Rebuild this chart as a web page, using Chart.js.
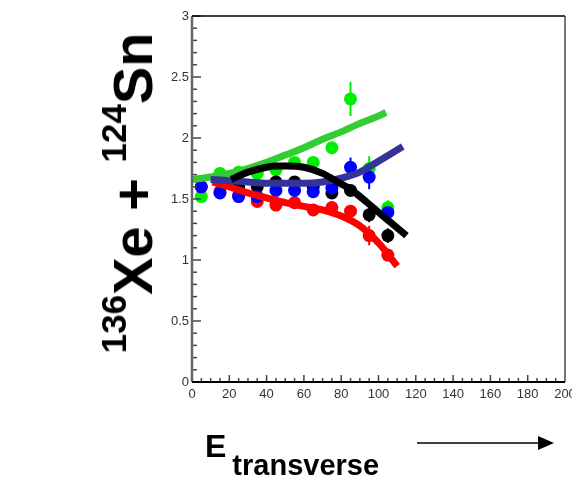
<!DOCTYPE html>
<html>
<head>
<meta charset="utf-8">
<script src="https://cdn.jsdelivr.net/npm/chart.js@4/dist/chart.umd.min.js"></script>
<style>
  body { margin: 0; background: #fff; }
  #wrap { position: relative; width: 572px; height: 478px; overflow: hidden; }
  #plot { position: absolute; left: 0; top: 0; filter: blur(0.6px); }
  .ttl { position: absolute; white-space: nowrap; font-family: "Liberation Sans", Arial, sans-serif; font-weight: bold; color: #000; line-height: 1; }
  #ytitle { left: 133px; top: 193px; font-size: 56px; transform: translate(-50%, -50%) rotate(-90deg); }
  #ytitle .sup { font-size: 35px; position: relative; top: -26px; }
  #xtitle { left: 205px; top: 430px; font-size: 32px; }
  #xtitle .sub { font-size: 29px; position: relative; top: 18px; margin-left: 6px; }
  #arrow { position: absolute; left: 0; top: 0; }
</style>
</head>
<body>
<div id="wrap">
  <canvas id="plot" width="572" height="478"></canvas>
  <div class="ttl" id="ytitle"><span class="sup">136</span>Xe + <span class="sup">124</span>Sn</div>
  <div class="ttl" id="xtitle">E<span class="sub">transverse</span></div>
  <svg id="arrow" width="572" height="478">
    <line x1="417" y1="443" x2="540" y2="443" stroke="#000" stroke-width="1.6"/>
    <polygon points="538,436 554,443 538,450" fill="#000"/>
  </svg>
</div>
<script>
// bin centres of the measured points
var binX = [5, 15, 25, 35, 45, 55, 65, 75, 85, 95, 105];

var greenPts = [1.52, 1.71, 1.72, 1.71, 1.74, 1.80, 1.80, 1.92, 2.32, 1.75, 1.43];
var greenErr = [0.03, 0.03, 0.03, 0.03, 0.03, 0.03, 0.03, 0.04, 0.14, 0.10, 0.06];
var bluePts  = [1.60, 1.55, 1.52, 1.52, 1.57, 1.57, 1.56, 1.59, 1.76, 1.68, 1.39];
var blueErr  = [0.03, 0.03, 0.03, 0.03, 0.03, 0.03, 0.03, 0.03, 0.08, 0.10, 0.07];
var redPts   = [1.60, 1.56, 1.53, 1.48, 1.45, 1.47, 1.41, 1.43, 1.40, 1.20, 1.04];
var redErr   = [0.03, 0.03, 0.03, 0.03, 0.03, 0.03, 0.03, 0.03, 0.03, 0.08, 0.05];
var blackPts = [null, null, 1.60, 1.60, 1.64, 1.64, 1.60, 1.55, 1.57, 1.37, 1.20];
var blackErr = [0, 0, 0.03, 0.03, 0.03, 0.03, 0.03, 0.03, 0.03, 0.06, 0.06];

// model curves
var greenLineX = [0, 10, 20, 30, 40, 50, 60, 70, 80, 90, 100, 104];
var greenLineY = [1.66, 1.68, 1.71, 1.75, 1.80, 1.86, 1.92, 1.99, 2.05, 2.12, 2.18, 2.21];
var navyLineX  = [10, 20, 30, 40, 50, 60, 70, 80, 90, 100, 113];
var navyLineY  = [1.66, 1.65, 1.64, 1.63, 1.63, 1.63, 1.64, 1.67, 1.72, 1.81, 1.93];
var blackLineX = [21, 30, 40, 45, 50, 60, 70, 78, 85, 94, 104, 115];
var blackLineY = [1.66, 1.72, 1.76, 1.77, 1.77, 1.76, 1.71, 1.64, 1.58, 1.47, 1.34, 1.20];
var redLineX   = [11, 20, 30, 40, 50, 60, 70, 80, 90, 100, 110];
var redLineY   = [1.64, 1.60, 1.55, 1.51, 1.47, 1.44, 1.41, 1.36, 1.28, 1.14, 0.95];

var xTicks = [0, 20, 40, 60, 80, 100, 120, 140, 160, 180, 200];
var yTicks = [0, 0.5, 1, 1.5, 2, 2.5, 3];

function pairs(xs, ys) {
  var out = [];
  for (var i = 0; i < xs.length; i++) {
    if (ys[i] !== null) out.push({x: xs[i], y: ys[i]});
  }
  return out;
}

function pointSet(ys, err, color, order) {
  return {
    data: pairs(binX, ys), err: err, showLine: false,
    pointRadius: 6.5, pointHoverRadius: 6.5, pointBorderWidth: 0,
    backgroundColor: color, borderColor: color, order: order
  };
}

function curveSet(xs, ys, color, order) {
  return {
    data: pairs(xs, ys), showLine: true, cubicInterpolationMode: 'monotone',
    borderColor: color, borderWidth: 7, pointRadius: 0, borderCapStyle: 'butt',
    fill: false, order: order
  };
}

// frame with inward ticks, like the original axes
var framePlugin = {
  id: 'frame',
  afterDraw: function(chart) {
    var c = chart.ctx, a = chart.chartArea;
    var xs = chart.scales.x, ys = chart.scales.y;
    c.save();
    c.strokeStyle = '#444';
    c.lineWidth = 1.5;
    for (var v = 0; v <= 200; v += 5) {
      var px = xs.getPixelForValue(v);
      var len = (v % 20 === 0) ? 7 : 4;
      c.beginPath(); c.moveTo(px, a.bottom); c.lineTo(px, a.bottom - len); c.stroke();
    }
    for (var k = 0; k <= 30; k++) {
      var py = ys.getPixelForValue(k / 10);
      var l = (k % 5 === 0) ? 9 : 5;
      c.beginPath(); c.moveTo(a.left, py); c.lineTo(a.left + l, py); c.stroke();
    }
    c.lineWidth = 2.5; c.strokeStyle = '#666';
    c.beginPath(); c.moveTo(a.left, a.top); c.lineTo(a.left, a.bottom); c.stroke();
    c.lineWidth = 2; c.strokeStyle = '#777';
    c.beginPath(); c.moveTo(a.right, a.top); c.lineTo(a.right, a.bottom); c.stroke();
    c.strokeStyle = '#000';
    c.beginPath(); c.moveTo(a.left, a.bottom); c.lineTo(a.right, a.bottom); c.stroke();
    c.lineWidth = 1.5;
    c.beginPath(); c.moveTo(a.left, a.top); c.lineTo(a.right, a.top); c.stroke();
    c.restore();
  }
};

// vertical error bars under the markers
var errorBars = {
  id: 'errorBars',
  beforeDatasetsDraw: function(chart) {
    var c = chart.ctx, ys = chart.scales.y, xs = chart.scales.x;
    c.save();
    c.lineWidth = 2;
    chart.data.datasets.forEach(function(ds) {
      if (!ds.err) return;
      c.strokeStyle = ds.borderColor;
      ds.data.forEach(function(p) {
        var e = ds.err[binX.indexOf(p.x)];
        if (!e) return;
        var px = xs.getPixelForValue(p.x);
        c.beginPath();
        c.moveTo(px, ys.getPixelForValue(p.y - e));
        c.lineTo(px, ys.getPixelForValue(p.y + e));
        c.stroke();
      });
    });
    c.restore();
  }
};

var tickFont = {family: '"Liberation Sans", Arial, sans-serif', size: 13};

new Chart(document.getElementById('plot'), {
  type: 'scatter',
  data: {
    datasets: [
      curveSet(blackLineX, blackLineY, '#000000', 1),
      curveSet(navyLineX, navyLineY, '#333399', 2),
      curveSet(redLineX, redLineY, '#ff0000', 3),
      curveSet(greenLineX, greenLineY, '#33cc33', 4),
      pointSet(bluePts, blueErr, '#0000ff', 5),
      pointSet(blackPts, blackErr, '#000000', 6),
      pointSet(redPts, redErr, '#ff0000', 7),
      pointSet(greenPts, greenErr, '#00ee00', 8)
    ]
  },
  options: {
    responsive: false,
    animation: false,
    events: [],
    layout: { padding: { left: 0, right: 7, top: 16, bottom: 0 } },
    plugins: { legend: { display: false }, tooltip: { enabled: false } },
    scales: {
      x: {
        type: 'linear', min: 0, max: 200,
        grid: { display: false, drawTicks: false },
        border: { display: false },
        afterBuildTicks: function(s) { s.ticks = xTicks.map(function(v) { return {value: v}; }); },
        afterFit: function(s) { s.height = 96; s.paddingLeft = 0; s.paddingRight = 0; },
        ticks: { padding: 5, color: '#333', font: tickFont, maxRotation: 0, autoSkip: false,
                 callback: function(v) { return String(v); } }
      },
      y: {
        min: 0, max: 3,
        grid: { display: false, drawTicks: false },
        border: { display: false },
        afterBuildTicks: function(s) { s.ticks = yTicks.map(function(v) { return {value: v}; }); },
        afterFit: function(s) { s.width = 192; s.paddingTop = 0; s.paddingBottom = 0; },
        ticks: { padding: 3, color: '#333', font: tickFont, autoSkip: false,
                 callback: function(v) { return String(v); } }
      }
    }
  },
  plugins: [errorBars, framePlugin]
});
</script>
</body>
</html>
